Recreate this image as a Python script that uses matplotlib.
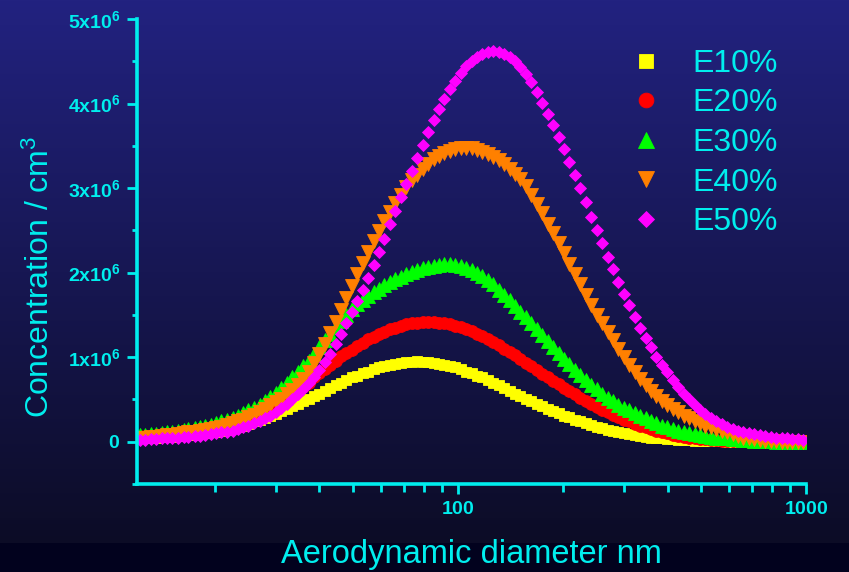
import numpy as np
import matplotlib.pyplot as plt
from matplotlib.ticker import MultipleLocator, FuncFormatter, NullFormatter, LogLocator

# SMPS channel mid-point diameters (nm)
diameter = [12.2, 12.6, 13.1, 13.6, 14.1, 14.6, 15.1, 15.7, 16.3, 16.8,
            17.5, 18.1, 18.8, 19.5, 20.2, 20.9, 21.7, 22.5, 23.3, 24.1,
            25.0, 25.9, 26.9, 27.9, 28.9, 30.0, 31.1, 32.2, 33.4, 34.6,
            35.9, 37.2, 38.5, 40.0, 41.4, 42.9, 44.5, 46.1, 47.8, 49.6,
            51.4, 53.3, 55.2, 57.3, 59.4, 61.5, 63.8, 66.1, 68.5, 71.0,
            73.7, 76.4, 79.1, 82.0, 85.1, 88.2, 91.4, 94.7, 98.2, 101.8,
            105.5, 109.4, 113.4, 117.6, 121.9, 126.3, 131.0, 135.8, 140.7, 145.9,
            151.2, 156.8, 162.5, 168.5, 174.7, 181.1, 187.7, 194.6, 201.7, 209.1,
            216.7, 224.7, 232.9, 241.4, 250.3, 259.5, 269.0, 278.8, 289.0, 299.6,
            310.6, 322.0, 333.8, 346.0, 358.7, 371.8, 385.4, 399.5, 414.2, 429.4,
            445.1, 461.4, 478.3, 495.8, 514.0, 532.8, 552.3, 572.5, 593.5, 615.3,
            637.8, 661.2, 685.4, 710.5, 736.5, 763.5, 791.5, 820.5, 850.5, 881.7,
            914.0, 947.5, 982.2]

# concentrations in units of 1e6 / cm3
e10 = [0.05, 0.05, 0.05, 0.05, 0.06, 0.06, 0.06, 0.07, 0.07, 0.08,
       0.08, 0.09, 0.10, 0.11, 0.12, 0.13, 0.14, 0.16, 0.18, 0.19,
       0.21, 0.24, 0.26, 0.28, 0.31, 0.33, 0.36, 0.39, 0.42, 0.45,
       0.48, 0.51, 0.54, 0.57, 0.60, 0.64, 0.67, 0.70, 0.73, 0.76,
       0.78, 0.81, 0.83, 0.86, 0.88, 0.89, 0.91, 0.92, 0.93, 0.94,
       0.94, 0.95, 0.94, 0.94, 0.93, 0.92, 0.91, 0.89, 0.88, 0.86,
       0.83, 0.81, 0.78, 0.76, 0.73, 0.70, 0.67, 0.64, 0.60, 0.57,
       0.54, 0.51, 0.48, 0.45, 0.42, 0.39, 0.36, 0.34, 0.31, 0.29,
       0.26, 0.24, 0.22, 0.20, 0.18, 0.16, 0.14, 0.13, 0.11, 0.10,
       0.09, 0.08, 0.07, 0.06, 0.05, 0.04, 0.04, 0.03, 0.03, 0.02,
       0.02, 0.02, 0.01, 0.01, 0.01, 0.01, 0.01, 0.01, 0.00, 0.00,
       0.00, 0.00, 0.00, 0.00, 0.00, 0.00, 0.00, 0.00, 0.00, 0.00,
       0.00, 0.00, 0.00]

e20 = [0.07, 0.07, 0.07, 0.08, 0.08, 0.08, 0.09, 0.09, 0.10, 0.10,
       0.11, 0.12, 0.13, 0.14, 0.15, 0.17, 0.19, 0.21, 0.23, 0.25,
       0.27, 0.30, 0.33, 0.36, 0.39, 0.43, 0.47, 0.51, 0.55, 0.60,
       0.65, 0.70, 0.76, 0.81, 0.86, 0.91, 0.96, 1.01, 1.05, 1.09,
       1.13, 1.17, 1.21, 1.24, 1.27, 1.30, 1.33, 1.35, 1.37, 1.39,
       1.40, 1.41, 1.42, 1.42, 1.42, 1.41, 1.40, 1.39, 1.37, 1.36,
       1.33, 1.31, 1.28, 1.25, 1.21, 1.18, 1.14, 1.10, 1.06, 1.02,
       0.98, 0.93, 0.89, 0.85, 0.80, 0.76, 0.72, 0.68, 0.64, 0.60,
       0.56, 0.52, 0.48, 0.45, 0.41, 0.38, 0.35, 0.32, 0.29, 0.26,
       0.24, 0.21, 0.19, 0.17, 0.15, 0.13, 0.11, 0.10, 0.08, 0.07,
       0.06, 0.05, 0.04, 0.03, 0.03, 0.02, 0.02, 0.01, 0.01, 0.01,
       0.01, 0.01, 0.00, 0.00, 0.00, 0.00, 0.00, 0.00, 0.00, 0.00,
       0.00, 0.00, 0.00]

e30 = [0.08, 0.08, 0.09, 0.09, 0.10, 0.11, 0.12, 0.13, 0.14, 0.15,
       0.16, 0.17, 0.19, 0.20, 0.22, 0.24, 0.26, 0.28, 0.31, 0.34,
       0.37, 0.40, 0.44, 0.48, 0.53, 0.58, 0.64, 0.70, 0.76, 0.82,
       0.89, 0.96, 1.04, 1.12, 1.20, 1.28, 1.36, 1.43, 1.50, 1.57,
       1.63, 1.68, 1.72, 1.77, 1.81, 1.85, 1.89, 1.92, 1.95, 1.98,
       2.01, 2.03, 2.05, 2.07, 2.08, 2.09, 2.10, 2.10, 2.09, 2.08,
       2.06, 2.03, 2.00, 1.96, 1.91, 1.86, 1.80, 1.74, 1.68, 1.61,
       1.54, 1.47, 1.40, 1.33, 1.26, 1.19, 1.12, 1.05, 0.98, 0.92,
       0.85, 0.79, 0.73, 0.67, 0.62, 0.57, 0.52, 0.48, 0.44, 0.40,
       0.37, 0.34, 0.31, 0.28, 0.25, 0.22, 0.19, 0.17, 0.15, 0.13,
       0.11, 0.10, 0.09, 0.08, 0.07, 0.06, 0.05, 0.04, 0.04, 0.03,
       0.03, 0.02, 0.02, 0.01, 0.01, 0.01, 0.01, 0.00, 0.00, 0.00,
       0.00, 0.00, 0.00]

e40 = [0.05, 0.05, 0.06, 0.06, 0.07, 0.08, 0.08, 0.09, 0.10, 0.11,
       0.12, 0.13, 0.14, 0.15, 0.16, 0.18, 0.20, 0.22, 0.24, 0.26,
       0.29, 0.32, 0.35, 0.39, 0.43, 0.47, 0.51, 0.56, 0.61, 0.67,
       0.74, 0.83, 0.93, 1.04, 1.16, 1.29, 1.42, 1.56, 1.70, 1.84,
       1.98, 2.11, 2.24, 2.37, 2.49, 2.61, 2.72, 2.82, 2.92, 3.01,
       3.09, 3.16, 3.23, 3.29, 3.34, 3.38, 3.41, 3.44, 3.46, 3.47,
       3.47, 3.47, 3.45, 3.43, 3.40, 3.37, 3.33, 3.28, 3.23, 3.17,
       3.11, 3.02, 2.92, 2.81, 2.70, 2.58, 2.47, 2.35, 2.23, 2.10,
       1.98, 1.86, 1.74, 1.62, 1.50, 1.40, 1.30, 1.20, 1.10, 1.00,
       0.91, 0.82, 0.74, 0.67, 0.60, 0.54, 0.48, 0.43, 0.39, 0.35,
       0.31, 0.28, 0.25, 0.22, 0.19, 0.17, 0.15, 0.13, 0.11, 0.09,
       0.07, 0.05, 0.04, 0.03, 0.02, 0.01, 0.01, 0.01, 0.00, 0.00,
       0.00, 0.00, 0.00]

e50 = [0.02, 0.02, 0.03, 0.03, 0.04, 0.04, 0.05, 0.05, 0.06, 0.06,
       0.07, 0.07, 0.08, 0.09, 0.10, 0.11, 0.12, 0.13, 0.15, 0.17,
       0.19, 0.22, 0.25, 0.28, 0.31, 0.35, 0.40, 0.45, 0.50, 0.56,
       0.62, 0.69, 0.77, 0.85, 0.94, 1.04, 1.16, 1.28, 1.40, 1.53,
       1.66, 1.80, 1.94, 2.09, 2.25, 2.40, 2.57, 2.73, 2.89, 3.05,
       3.20, 3.36, 3.51, 3.66, 3.81, 3.93, 4.05, 4.17, 4.27, 4.36,
       4.44, 4.50, 4.55, 4.59, 4.61, 4.62, 4.61, 4.59, 4.55, 4.50,
       4.43, 4.35, 4.25, 4.14, 4.01, 3.88, 3.75, 3.61, 3.46, 3.31,
       3.16, 3.00, 2.83, 2.66, 2.50, 2.35, 2.19, 2.04, 1.89, 1.75,
       1.62, 1.48, 1.35, 1.23, 1.12, 1.00, 0.91, 0.82, 0.73, 0.65,
       0.57, 0.50, 0.44, 0.38, 0.33, 0.28, 0.24, 0.21, 0.18, 0.15,
       0.13, 0.11, 0.10, 0.09, 0.08, 0.07, 0.06, 0.05, 0.05, 0.04,
       0.03, 0.03, 0.02]

labels = ['E10%', 'E20%', 'E30%', 'E40%', 'E50%']
series = [e10, e20, e30, e40, e50]
colors = ['#ffff00', '#ff0000', '#00ff00', '#ff8000', '#ff00ff']
markers = ['s', 'o', '^', 'v', 'D']
sizes = [7.8, 8.5, 9.5, 9.5, 6.4]

cyan = '#00eeee'

plt.rcParams['font.family'] = ['Liberation Sans', 'DejaVu Sans']
plt.rcParams['mathtext.fontset'] = 'custom'
plt.rcParams['mathtext.rm'] = 'Liberation Sans'
plt.rcParams['mathtext.bf'] = 'Liberation Sans:bold'
plt.rcParams['mathtext.it'] = 'Liberation Sans:italic'

fig = plt.figure(figsize=(8.49, 5.72), dpi=100)

# background: blue gradient with a dark band at the bottom
bg = fig.add_axes([0, 0, 1, 1], zorder=0)
top = np.array([34, 34, 128]) / 255
bot = np.array([12, 12, 38]) / 255
t = np.linspace(0, 1, 543)[:, None]
grad = top + (bot - top) * t
band = np.tile(np.array([2, 2, 30]) / 255, (29, 1))
img = np.vstack([grad, band])[:, None, :]
bg.imshow(img, aspect='auto', extent=[0, 1, 0, 1])
bg.axis('off')

ax = fig.add_axes([137 / 849, 1 - 484 / 572, 669 / 849, 465 / 572], zorder=1)
ax.patch.set_alpha(0)

x = np.array(diameter)
for vals, lab, c, m, s in zip(series, labels, colors, markers, sizes):
    ax.plot(x, np.array(vals) * 1e6, linestyle='none', marker=m, ms=s,
            color=c, mec=c, mew=0.6, label=lab)

ax.set_xscale('log')
ax.set_xlim(11.96, 1000)
ax.set_ylim(-0.5e6, 5e6)

ax.xaxis.set_major_locator(LogLocator(base=10))
ax.xaxis.set_minor_locator(LogLocator(base=10, subs=np.arange(2, 10)))
ax.xaxis.set_major_formatter(FuncFormatter(lambda v, p: r'$\mathbf{%d}$' % round(v)))
ax.xaxis.set_minor_formatter(NullFormatter())

ax.yaxis.set_major_locator(MultipleLocator(1e6))
ax.yaxis.set_minor_locator(MultipleLocator(0.5e6))


def yfmt(v, p):
    if abs(v) < 1:
        return r'$\mathbf{0}$'
    return r'$\mathbf{%dx10^{6}}$' % round(v / 1e6)


ax.yaxis.set_major_formatter(FuncFormatter(yfmt))

for side in ['top', 'right']:
    ax.spines[side].set_visible(False)
for side in ['left', 'bottom']:
    ax.spines[side].set_color(cyan)
    ax.spines[side].set_linewidth(2.6)

ax.tick_params(which='major', colors=cyan, width=2, length=7, labelsize=14, pad=5)
ax.tick_params(which='minor', colors=cyan, width=2, length=3.5)
ax.tick_params(axis='x', which='minor', length=5.5)

ax.set_ylabel('Concentration / cm$^{3}$', fontsize=23, color=cyan)
ax.yaxis.set_label_coords(-0.121, 0.445)
ax.set_xlabel('Aerodynamic diameter nm', fontsize=23.5, color=cyan)
ax.xaxis.set_label_coords(0.5, -0.118)

leg = ax.legend(loc='upper left', bbox_to_anchor=(0.737, 0.936), frameon=False,
                fontsize=23, labelcolor=cyan, handlelength=1.0, handletextpad=0.95,
                labelspacing=0.30, borderpad=0, borderaxespad=0, markerscale=1.25)

fig.savefig('out.png', dpi=100)
